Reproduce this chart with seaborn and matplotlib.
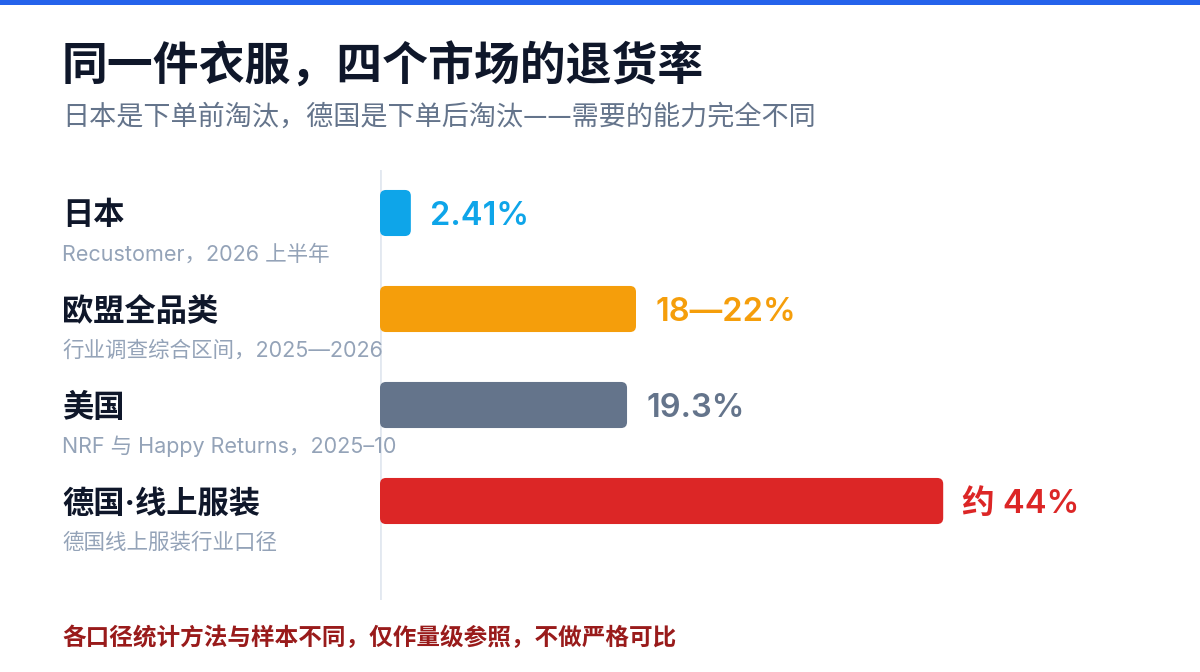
import matplotlib
matplotlib.use("Agg")
import matplotlib.pyplot as plt
import matplotlib.transforms as mtransforms
from matplotlib.patches import FancyBboxPatch
import seaborn as sns
import pandas as pd

# ---- data ----
categories = ["日本", "欧盟全品类", "美国", "德国·线上服装"]
sources = ["Recustomer，2026 上半年", "行业调查综合区间，2025—2026",
           "NRF 与 Happy Returns，2025–10", "德国线上服装行业口径"]
values = [2.41, 20.0, 19.3, 44.0]
value_labels = ["2.41%", "18—22%", "19.3%", "约 44%"]
colors = ["#0ea5e9", "#f59e0b", "#64748b", "#dc2626"]

title = "同一件衣服，四个市场的退货率"
subtitle = "日本是下单前淘汰，德国是下单后淘汰——需要的能力完全不同"
footnote = "各口径统计方法与样本不同，仅作量级参照，不做严格可比"

sns.set_theme(style="white")
FAM = ["Inter", "Noto Sans CJK SC", "DejaVu Sans"]
CJK = ["Noto Sans CJK SC", "DejaVu Sans"]
plt.rcParams["font.family"] = FAM

W, H = 1200, 672
fig = plt.figure(figsize=(W / 100, H / 100), dpi=100)
fig.patch.set_facecolor("white")

ax_left, ax_right, ax_top, ax_bottom = 380, 1200, 170, 600
ax = fig.add_axes([ax_left / W, 1 - ax_bottom / H, (ax_right - ax_left) / W, (ax_bottom - ax_top) / H])

df = pd.DataFrame({"cat": categories, "val": values})
sns.barplot(data=df, x="val", y="cat", hue="cat", palette=colors, legend=False,
            orient="h", width=0.48, ax=ax, saturation=1)

px_per_unit = 12.8
ax.set_xlim(0, (ax_right - ax_left) / px_per_unit)
spacing_px = 96
ax.set_ylim(3 + (ax_bottom - 501) / spacing_px, -(213 - ax_top) / spacing_px)

# rounded bars replacing rectangles
rx = 6 / px_per_unit
ry = 6 / spacing_px
for p in list(ax.patches):
    x0, y0 = p.get_x(), p.get_y()
    w, h = p.get_width(), p.get_height()
    fc = p.get_facecolor()
    p.set_visible(False)
    fb = FancyBboxPatch((x0, y0), w, h,
                        boxstyle=f"round,pad=0,rounding_size={rx}",
                        mutation_aspect=ry / rx, facecolor=fc, edgecolor="none", zorder=3)
    ax.add_patch(fb)

ax.axvline(0, color="#e2e8f0", lw=2, zorder=1)
for s in ax.spines.values():
    s.set_visible(False)
ax.set_xticks([])
ax.set_yticks([])
ax.set_xlabel("")
ax.set_ylabel("")

# value labels
for i, (v, lab, c) in enumerate(zip(values, value_labels, colors)):
    ax.annotate(lab, xy=(v, i), xytext=(13.7, -2.5), textcoords="offset points",
                va="center", ha="left", fontsize=23.5, color=c, fontweight="semibold",
                family=FAM)

# category labels
trans = mtransforms.blended_transform_factory(fig.transFigure, ax.transData)
for i, (cat, src) in enumerate(zip(categories, sources)):
    ax.annotate(cat, xy=(62 / W, i), xycoords=trans, xytext=(0, -2),
                textcoords="offset points", ha="left", va="center",
                fontsize=22.5, fontweight="bold", color="#0f172a",
                family=FAM, annotation_clip=False)
    ax.annotate(src, xy=(62 / W, i), xycoords=trans, xytext=(0, -30),
                textcoords="offset points", ha="left", va="center",
                fontsize=15.5, color="#94a3b8", family=FAM, annotation_clip=False)

# top stripe
fig.patches.append(matplotlib.patches.Rectangle((0, 1 - 5 / H), 1, 5 / H,
                   transform=fig.transFigure, facecolor="#2563eb", edgecolor="none"))

fig.text(62 / W, 1 - 68 / H, title, ha="left", va="center", fontsize=33,
         fontweight="bold", color="#0f172a", family=CJK)
fig.text(62 / W, 1 - 117 / H, subtitle, ha="left", va="center", fontsize=19.5,
         color="#64748b", family=CJK)
fig.text(62 / W, 1 - 638 / H, footnote, ha="left", va="center", fontsize=17,
         fontweight="bold", color="#991b1b", family=CJK)

fig.savefig("out.png", dpi=100, facecolor="white")
